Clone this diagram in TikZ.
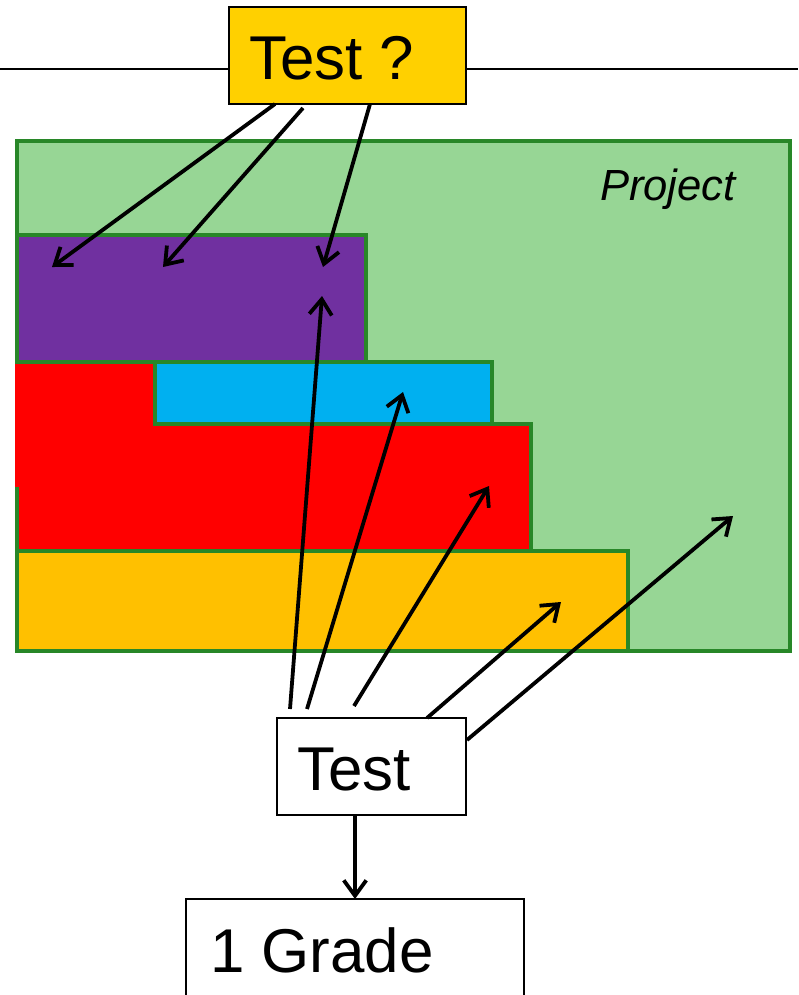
\documentclass[tikz,border=0pt]{standalone}
\usepackage{fontspec}
\setmainfont{Liberation Sans}
\usetikzlibrary{arrows.meta}
\definecolor{projfill}{RGB}{151,214,149}
\definecolor{projline}{RGB}{40,135,40}
\definecolor{goldbox}{RGB}{255,208,0}
\definecolor{orangebar}{RGB}{255,192,0}
\definecolor{bluebar}{RGB}{0,176,240}
\definecolor{purplebar}{RGB}{112,48,160}
\definecolor{redbar}{RGB}{255,0,0}
\tikzset{
  area/.style={draw=projline, line width=3.4pt, inner sep=0pt, outer sep=0pt},
  plainbox/.style={draw=black, line width=1.5pt, fill=white, inner sep=0pt, outer sep=0pt},
  big/.style={font=\fontsize{44}{50}\selectfont, inner sep=0pt, anchor=base west},
  arr/.style={line width=2.7pt, -{Straight Barb[length=11pt,width=16pt]}},
}
\begin{document}
\begin{tikzpicture}[x=0.025cm,y=-0.025cm]
\useasboundingbox (0,0) rectangle (798,995);
% top rule
\coordinate (L) at (0,69);
\coordinate (R) at (798,69);
\draw[line width=1.9pt] (L) -- (R);
% question box
\node[plainbox, fill=goldbox, minimum width=5.925cm, minimum height=2.425cm] (q) at (347.5,55.5) {};
\node[big] (qt) at (249,79) {Test ?};
% project area
\node[area, fill=projfill, minimum width=19.325cm, minimum height=12.75cm] (proj) at (403.5,396) {};
\node[font=\fontsize{31}{36}\selectfont\itshape, inner sep=0pt, anchor=base east] (projt) at (736,200) {Project};
% bars
\node[area, fill=orangebar, minimum width=15.275cm, minimum height=2.5cm] (ob) at (322.5,601) {};
\node[area, fill=redbar, minimum width=12.85cm, minimum height=3.175cm] (rb) at (274,487.5) {};
\fill[redbar] (15,363) rectangle (153,487);
\node[area, fill=bluebar, minimum width=8.425cm, minimum height=1.55cm] (bb) at (323.5,393) {};
\node[area, fill=purplebar, minimum width=8.725cm, minimum height=3.175cm] (pb) at (191.5,298.5) {};
% test boxes
\node[plainbox, minimum width=4.725cm, minimum height=2.425cm] (t) at (371.5,766.5) {};
\node[big] (tt) at (297,790) {Test};
\node[plainbox, minimum width=8.45cm, minimum height=2.65cm] (g) at (355,952) {};
\node[big] (gt) at (210,972) {1 Grade};
% arrow ends
\coordinate (a1s) at (275,104); \coordinate (a1e) at (52,267);
\coordinate (a2s) at (303,108); \coordinate (a2e) at (163,267);
\coordinate (a3s) at (370,104); \coordinate (a3e) at (323,267);
\coordinate (b1s) at (290,709); \coordinate (b1e) at (322,296);
\coordinate (b2s) at (307,709); \coordinate (b2e) at (403,392);
\coordinate (b3s) at (354,706); \coordinate (b3e) at (489,486);
\coordinate (b4s) at (427,718); \coordinate (b4e) at (561,602);
\coordinate (b5s) at (467,740); \coordinate (b5e) at (733,516);
\draw[arr] (a1s) -- (a1e);
\draw[arr] (a2s) -- (a2e);
\draw[arr] (a3s) -- (a3e);
\draw[arr] (b1s) -- (b1e);
\draw[arr] (b2s) -- (b2e);
\draw[arr] (b3s) -- (b3e);
\draw[arr] (b4s) -- (b4e);
\draw[arr] (b5s) -- (b5e);
\draw[arr] (t.south -| g.north) -- (g.north);
\end{tikzpicture}
\end{document}
